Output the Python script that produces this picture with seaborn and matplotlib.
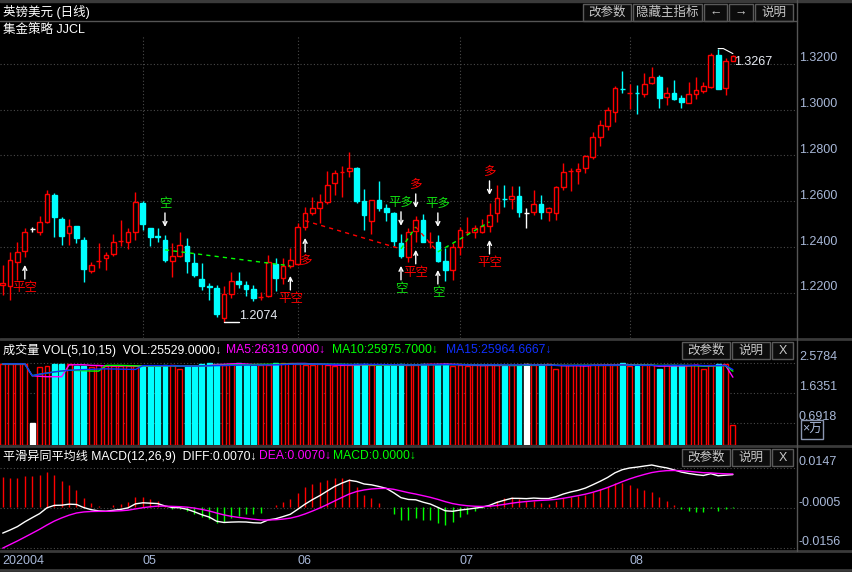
import numpy as np
import pandas as pd
import seaborn as sns
import matplotlib.pyplot as plt
from matplotlib.patches import Rectangle
from matplotlib.lines import Line2D

# GBPUSD daily candles, 2020-04 .. 2020-08
opens = [1.2235, 1.2231, 1.2335, 1.2383, 1.2479, 1.2466, 1.2510, 1.2628, 1.2523, 1.2462,
         1.2493, 1.2431, 1.2296, 1.2338, 1.2353, 1.2370, 1.2425, 1.2423, 1.2466, 1.2593,
         1.2484, 1.2447, 1.2431, 1.2340, 1.2362, 1.2405, 1.2331, 1.2261, 1.2228, 1.2222,
         1.2091, 1.2196, 1.2252, 1.2235, 1.2217, 1.2181, 1.2187, 1.2327, 1.2265, 1.2318,
         1.2327, 1.2488, 1.2549, 1.2571, 1.2597, 1.2680, 1.2727, 1.2733, 1.2746, 1.2602,
         1.2514, 1.2606, 1.2571, 1.2549, 1.2418, 1.2357, 1.2471, 1.2519, 1.2422, 1.2423,
         1.2340, 1.2300, 1.2401, 1.2465, 1.2466, 1.2466, 1.2493, 1.2549, 1.2612, 1.2610,
         1.2624, 1.2549, 1.2554, 1.2589, 1.2554, 1.2549, 1.2663, 1.2732, 1.2733, 1.2746,
         1.2794, 1.2881, 1.2929, 1.2990, 1.3092, 1.3072, 1.3074, 1.3069, 1.3117, 1.3143,
         1.3056, 1.3073, 1.3052, 1.3030, 1.3069, 1.3082, 1.3100, 1.3239, 1.3095, 1.3213]
highs = [1.2322, 1.2379, 1.2423, 1.2484, 1.2488, 1.2536, 1.2650, 1.2637, 1.2532, 1.2523,
         1.2493, 1.2445, 1.2335, 1.2418, 1.2379, 1.2458, 1.2519, 1.2484, 1.2641, 1.2602,
         1.2484, 1.2484, 1.2453, 1.2418, 1.2466, 1.2440, 1.2375, 1.2331, 1.2244, 1.2235,
         1.2231, 1.2292, 1.2292, 1.2252, 1.2235, 1.2204, 1.2366, 1.2353, 1.2353, 1.2396,
         1.2506, 1.2576, 1.2619, 1.2632, 1.2733, 1.2737, 1.2755, 1.2816, 1.2748, 1.2654,
         1.2606, 1.2689, 1.2589, 1.2554, 1.2458, 1.2484, 1.2536, 1.2545, 1.2466, 1.2453,
         1.2396, 1.2418, 1.2488, 1.2532, 1.2497, 1.2523, 1.2593, 1.2672, 1.2672, 1.2667,
         1.2667, 1.2571, 1.2650, 1.2628, 1.2576, 1.2667, 1.2768, 1.2746, 1.2768, 1.2803,
         1.2903, 1.2955, 1.3012, 1.3104, 1.3169, 1.3113, 1.3108, 1.3161, 1.3187, 1.3152,
         1.3100, 1.3130, 1.3065, 1.3121, 1.3143, 1.3121, 1.3248, 1.3267, 1.3226, 1.3237]
lows = [1.2191, 1.2169, 1.2257, 1.2357, 1.2466, 1.2453, 1.2506, 1.2445, 1.2410, 1.2410,
        1.2418, 1.2248, 1.2287, 1.2309, 1.2300, 1.2362, 1.2405, 1.2392, 1.2431, 1.2475,
        1.2405, 1.2423, 1.2335, 1.2270, 1.2357, 1.2287, 1.2270, 1.2213, 1.2169, 1.2095,
        1.2074, 1.2178, 1.2222, 1.2187, 1.2165, 1.2169, 1.2182, 1.2209, 1.2239, 1.2309,
        1.2322, 1.2475, 1.2541, 1.2506, 1.2589, 1.2628, 1.2619, 1.2707, 1.2593, 1.2475,
        1.2458, 1.2558, 1.2514, 1.2405, 1.2353, 1.2335, 1.2423, 1.2423, 1.2396, 1.2335,
        1.2252, 1.2257, 1.2366, 1.2453, 1.2440, 1.2462, 1.2466, 1.2510, 1.2576, 1.2567,
        1.2532, 1.2484, 1.2541, 1.2523, 1.2514, 1.2519, 1.2650, 1.2645, 1.2676, 1.2724,
        1.2785, 1.2842, 1.2912, 1.2947, 1.3073, 1.3003, 1.2982, 1.3056, 1.3113, 1.3008,
        1.3021, 1.3043, 1.3008, 1.3030, 1.3047, 1.3073, 1.3095, 1.3091, 1.3065, 1.3211]
closes = [1.2244, 1.2344, 1.2379, 1.2466, 1.2479, 1.2510, 1.2632, 1.2532, 1.2449, 1.2493,
          1.2440, 1.2305, 1.2322, 1.2341, 1.2366, 1.2423, 1.2428, 1.2466, 1.2597, 1.2501,
          1.2445, 1.2444, 1.2344, 1.2362, 1.2410, 1.2340, 1.2279, 1.2231, 1.2225, 1.2108,
          1.2196, 1.2252, 1.2239, 1.2217, 1.2178, 1.2184, 1.2335, 1.2265, 1.2318, 1.2344,
          1.2488, 1.2549, 1.2571, 1.2597, 1.2672, 1.2724, 1.2730, 1.2746, 1.2602, 1.2541,
          1.2606, 1.2571, 1.2554, 1.2427, 1.2362, 1.2466, 1.2519, 1.2423, 1.2424, 1.2340,
          1.2300, 1.2401, 1.2475, 1.2467, 1.2484, 1.2493, 1.2541, 1.2615, 1.2609, 1.2624,
          1.2554, 1.2549, 1.2589, 1.2554, 1.2571, 1.2663, 1.2728, 1.2734, 1.2742, 1.2798,
          1.2881, 1.2934, 1.2999, 1.3095, 1.3089, 1.3074, 1.3072, 1.3113, 1.3143, 1.3052,
          1.3073, 1.3047, 1.3034, 1.3069, 1.3086, 1.3104, 1.3239, 1.3091, 1.3213, 1.3235]
# volume, x 10k
vols = [2.55, 2.55, 2.55, 2.55, 0.69, 2.46, 2.48, 2.55, 2.55, 2.55,
        2.48, 2.48, 2.46, 2.52, 2.48, 2.48, 2.48, 2.48, 2.48, 2.48,
        2.48, 2.48, 2.52, 2.52, 2.39, 2.48, 2.48, 2.55, 2.58, 2.55,
        2.52, 2.55, 2.58, 2.52, 2.48, 2.52, 2.52, 2.58, 2.58, 2.58,
        2.55, 2.52, 2.50, 2.55, 2.52, 2.48, 2.50, 2.52, 2.55, 2.55,
        2.50, 2.48, 2.50, 2.52, 2.55, 2.50, 2.52, 2.55, 2.55, 2.55,
        2.55, 2.48, 2.52, 2.48, 2.50, 2.50, 2.52, 2.50, 2.48, 2.50,
        2.52, 2.55, 2.50, 2.52, 2.55, 2.40, 2.50, 2.50, 2.52, 2.50,
        2.50, 2.52, 2.52, 2.52, 2.58, 2.48, 2.48, 2.50, 2.50, 2.40,
        2.52, 2.50, 2.50, 2.52, 2.50, 2.40, 2.52, 2.55, 2.55, 0.63]

month_start = [0, 19, 40, 62, 85]
month_labels = ['202004', '05', '06', '07', '08']
price_ticks = [1.32, 1.30, 1.28, 1.26, 1.24, 1.22]
vol_ticks = [2.5784, 1.6351, 0.6918]
macd_ticks = [0.0147, -0.0005, -0.0156]

# JJCL strategy signals
sig_idx = [3, 22, 39, 41, 54, 54, 56, 56, 59, 59, 66, 66]
sig_text = ['平空', '空', '平空', '多', '平多', '空', '平空', '多', '平多', '空', '平空', '多']
sig_side = ['below', 'above', 'below', 'below', 'above', 'below',
            'below', 'above', 'above', 'below', 'below', 'above']
trade_from = [22, 41, 54, 56, 59]
trade_to = [39, 54, 56, 59, 66]
trade_p0 = [1.2388, 1.2515, 1.2392, 1.2488, 1.2379]
trade_p1 = [1.2318, 1.2392, 1.2488, 1.2379, 1.2510]
trade_side = ['short', 'long', 'short', 'long', 'short']

# EMA state carried in from before the visible window
ema12_0, ema26_0, dea_0 = 1.2290, 1.2390, -0.0157

UP, DOWN, GRN = '#ff0000', '#00ffff', '#00ff00'
AXC = '#a8b8d8'
GRID = '#4a4a4a'

df = pd.DataFrame({'o': opens, 'h': highs, 'l': lows, 'c': closes, 'v': vols})
df['i'] = np.arange(len(df))
df['col'] = np.where(df.c > df.o, UP, np.where(df.c < df.o, DOWN, 'white'))
df['face'] = np.where(df.c > df.o, 'black', df.col)
df['ma5'] = df.v.rolling(5, min_periods=1).mean()
df['ma10'] = df.v.rolling(10, min_periods=1).mean()
df['ma15'] = df.v.rolling(15, min_periods=1).mean()

e12, e26 = [ema12_0], [ema26_0]
for c in df.c[1:]:
    e12.append(e12[-1] + (c - e12[-1]) * 2 / 13)
    e26.append(e26[-1] + (c - e26[-1]) * 2 / 27)
df['diff'] = np.array(e12) - np.array(e26)
dea = [dea_0]
for d in df['diff'][1:]:
    dea.append(dea[-1] + (d - dea[-1]) * 2 / 10)
df['dea'] = dea
df['macd'] = 2 * (df['diff'] - df['dea'])

sns.set_style('dark', {'axes.facecolor': 'black', 'figure.facecolor': 'black'})
plt.rcParams['font.family'] = ['Liberation Sans', 'Noto Sans CJK SC', 'DejaVu Sans']

W, H = 853, 572
PT = 0.72  # points per pixel
fig = plt.figure(figsize=(W / 100, H / 100), dpi=100, facecolor='black')


def fx(p):
    return p / W


def fy(p):
    return 1 - p / H


def panel(top, bottom):
    return fig.add_axes([0, fy(bottom), fx(797), (bottom - top) / H])


def right_labels(a, ticks):
    for v in ticks:
        a.annotate(f'{v:.4f}', xy=(1, v), xycoords=('axes fraction', 'data'),
                   xytext=(2 * PT, 2.5 * PT), textcoords='offset points', va='baseline',
                   color=AXC, fontsize=9, annotation_clip=False)


ax = panel(22, 338)
ax_v = panel(340, 445)
ax_m = panel(447, 550)

# ---- price panel
for p in price_ticks:
    ax.axhline(p, color=GRID, lw=0.8, ls=(0, (1, 2)), zorder=0)
for m in month_start[1:]:
    ax.axvline(m, ymax=0.956, color=GRID, lw=0.8, ls=(0, (1, 2)), zorder=0)
ax.vlines(df.i, df.l, df.h, colors=df.col, lw=1, zorder=2)
ax.bar(df.i, (df.c - df.o).abs(), bottom=np.minimum(df.o, df.c), width=0.64,
       color=df.face, edgecolor=df.col, lw=1, zorder=3)

for i0, i1, p0, p1, s in zip(trade_from, trade_to, trade_p0, trade_p1, trade_side):
    ax.plot([i0, i1], [p0, p1], color=GRN if s == 'short' else UP, lw=1,
            ls=(0, (3, 3)), zorder=4)

for i, t, s in zip(sig_idx, sig_text, sig_side):
    color = UP if t in ('平空', '多') else '#10e010'
    y, sg = (lows[i], -1) if s == 'below' else (highs[i], 1)
    ax.annotate('', xy=(i, y), xytext=(0, sg * 22 * PT), textcoords='offset points',
                arrowprops=dict(arrowstyle='->', color='white', lw=1, shrinkA=0,
                                shrinkB=8 * PT, mutation_scale=7), zorder=5)
    ax.annotate(t, xy=(i, y), xytext=(0, sg * 31 * PT), textcoords='offset points',
                ha='center', va='center', color=color, fontsize=9, zorder=5)

imin, imax = int(np.argmin(lows)), int(np.argmax(highs))
ax.plot([imin, imin + 2], [lows[imin]] * 2, color='white', lw=1)
ax.annotate(f'{lows[imin]:.4f}', xy=(imin + 2.1, lows[imin]), xytext=(0, 3 * PT),
            textcoords='offset points', va='baseline', color='#e8ecf4', fontsize=9)
ax.plot([imax, imax + 0.7, imax + 2], [highs[imax], highs[imax], highs[imax] - 0.0022],
        color='white', lw=0.8)
ax.annotate(f'{highs[imax]:.4f}', xy=(imax + 2.1, highs[imax]), xytext=(0, -13 * PT),
            textcoords='offset points', va='center', color='#e8ecf4', fontsize=9)
ax.set_ylim(1.2003, 1.3383)
right_labels(ax, price_ticks)

# ---- volume panel
for v in vol_ticks:
    ax_v.axhline(v, color=GRID, lw=0.8, ls=(0, (1, 2)), zorder=0)
ax_v.bar(df.i, df.v, width=0.66, color=df.face, edgecolor=df.col, lw=1, zorder=2)
sns.lineplot(x=df.i, y=df.ma5, ax=ax_v, color='#ff00ff', lw=1, zorder=3)
sns.lineplot(x=df.i, y=df.ma10, ax=ax_v, color='#00ff00', lw=1, zorder=3)
sns.lineplot(x=df.i, y=df.ma15, ax=ax_v, color='#1030ff', lw=1, zorder=3)
ax_v.set_ylim(0, 3.30)
right_labels(ax_v, vol_ticks)

# ---- MACD panel
for v in macd_ticks:
    ax_m.axhline(v, color=GRID, lw=0.8, ls=(0, (1, 2)), zorder=0)
ax_m.vlines(df.i, 0, df.macd, colors=np.where(df.macd >= 0, UP, GRN), lw=1, zorder=2)
sns.lineplot(x=df.i, y=df['diff'], ax=ax_m, color='white', lw=1, zorder=3)
sns.lineplot(x=df.i, y=df['dea'], ax=ax_m, color='#ff00ff', lw=1, zorder=3)
ax_m.set_ylim(-0.0164, 0.0226)
right_labels(ax_m, macd_ticks)
for m, lab in zip(month_start, month_labels):
    ax_m.annotate(lab, xy=(m, 0), xycoords=('data', 'axes fraction'), xytext=(0, -11 * PT),
                  textcoords='offset points', va='center', ha='left', color=AXC,
                  fontsize=9, annotation_clip=False)

for a in (ax, ax_v, ax_m):
    a.set_xlim(-0.366, 107.69)
    a.axis('off')

# ---- frame, separators, headers, buttons
SEP = '#3a3a3a'
fig.add_artist(Rectangle((0, fy(2)), 1, 2 / H, transform=fig.transFigure, color=SEP))
for yy in (339, 446, 551, 570):
    fig.add_artist(Line2D([0, 1], [fy(yy)] * 2, color=SEP, lw=2))
fig.add_artist(Line2D([0, fx(797)], [fy(21)] * 2, color='#555555', lw=1))
fig.add_artist(Line2D([fx(797.5)] * 2, [fy(0), fy(551)], color='#555555', lw=1))


def button(x0, x1, y0, y1, label):
    fig.add_artist(Rectangle((fx(x0), fy(y1)), fx(x1) - fx(x0), (y1 - y0) / H,
                             transform=fig.transFigure, fc='#0c0c0c', ec='#5a5a5a', lw=1))
    fig.text(fx((x0 + x1) / 2), fy((y0 + y1) / 2 + 0.5), label, ha='center', va='center',
             color='#c8c8c8', fontsize=9)


button(583, 631, 4, 21, '改参数')
button(633, 702, 4, 21, '隐藏主指标')
button(704, 727, 4, 21, '←')
button(729, 753, 4, 21, '→')
button(755, 793, 4, 21, '说明')
for y0 in (342, 449):
    button(682, 730, y0, y0 + 17, '改参数')
    button(732, 770, y0, y0 + 17, '说明')
    button(772, 793, y0, y0 + 17, 'X')

fig.add_artist(Rectangle((fx(801), fy(439)), fx(22), 19 / H, transform=fig.transFigure,
                         fc='none', ec='#8a96b0', lw=1))
fig.text(fx(812), fy(429.5), '×万', ha='center', va='center', color=AXC, fontsize=9)

fig.text(fx(3), fy(12), '英镑美元 (日线)', va='center', color='white', fontsize=9)
fig.text(fx(3), fy(30), '集金策略 JJCL', va='center', color='white', fontsize=9)

HF = 8.7
fig.text(fx(3), fy(350), '成交量 VOL(5,10,15)  VOL:25529.0000↓', va='center',
         color='white', fontsize=HF)
fig.text(fx(226), fy(350), 'MA5:26319.0000↓', va='center', color='#ff00ff', fontsize=HF)
fig.text(fx(332), fy(350), 'MA10:25975.7000↓', va='center', color='#00ff00', fontsize=HF)
fig.text(fx(446), fy(350), 'MA15:25964.6667↓', va='center', color='#1030ff', fontsize=HF)

fig.text(fx(3), fy(456), '平滑异同平均线 MACD(12,26,9)  DIFF:0.0070↓', va='center',
         color='white', fontsize=HF)
fig.text(fx(259), fy(456), 'DEA:0.0070↓', va='center', color='#ff00ff', fontsize=HF)
fig.text(fx(333), fy(456), 'MACD:0.0000↓', va='center', color='#00ff00', fontsize=HF)

fig.savefig('out.png', dpi=100, facecolor='black')
